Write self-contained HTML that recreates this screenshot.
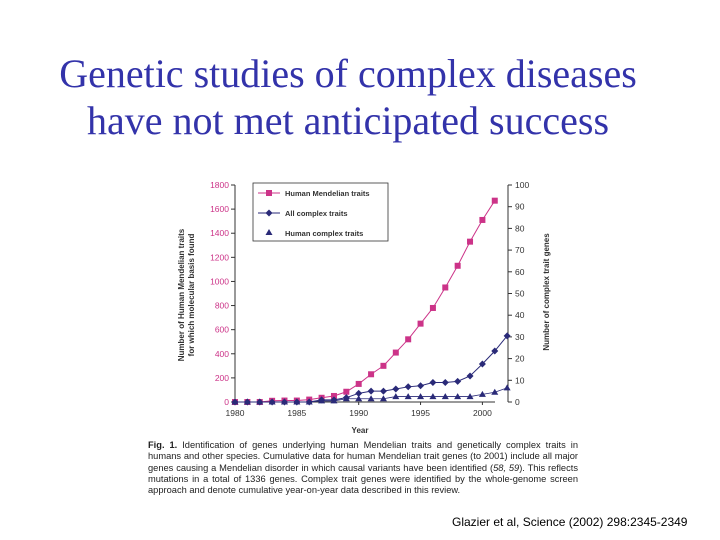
<!DOCTYPE html>
<html><head><meta charset="utf-8"><style>
body{margin:0;width:720px;height:540px;background:#fff;overflow:hidden;font-family:"Liberation Sans",sans-serif}
#title{position:absolute;left:0;top:50px;width:696px;text-align:center;font-family:"Liberation Serif",serif;font-size:40px;line-height:47px;color:#3333aa}
#caption{position:absolute;left:148px;top:440px;width:430px;font-size:9.3px;line-height:11.3px;color:#222;text-align:justify}
#cite{position:absolute;left:452px;top:515px;font-size:12px;color:#000}
</style></head><body>
<div id="title">Genetic studies of complex diseases<br>have not met anticipated success</div>
<svg id="chart" width="720" height="540" style="position:absolute;left:0;top:0"></svg>
<div id="caption"><b>Fig. 1.</b> Identification of genes underlying human Mendelian traits and genetically complex traits in humans and other species. Cumulative data for human Mendelian trait genes (to 2001) include all major genes causing a Mendelian disorder in which causal variants have been identified (<i>58, 59</i>). This reflects mutations in a total of 1336 genes. Complex trait genes were identified by the whole-genome screen approach and denote cumulative year-on-year data described in this review.</div>
<div id="cite">Glazier et al, Science (2002) 298:2345-2349</div>
<script>
const years=[1980,1981,1982,1983,1984,1985,1986,1987,1988,1989,1990,1991,1992,1993,1994,1995,1996,1997,1998,1999,2000,2001,2002];
const mendelian=[0,0,0,10,12,12,20,35,50,85,150,230,300,410,520,650,780,950,1130,1330,1510,1670];
const allComplex=[0,0,0,0,0,0,0,1,1,2,4,5,5,6,7,7.5,9,9,9.5,12,17.5,23.5,30.5];
const humanComplex=[0,0,0,0,0,0,0,0.5,0.5,1.5,1.5,1.5,1.5,2.5,2.5,2.5,2.5,2.5,2.5,2.5,3.5,4.5,6.5];
const leftTicks=[0,200,400,600,800,1000,1200,1400,1600,1800];
const rightTicks=[0,10,20,30,40,50,60,70,80,90,100];
const xTicks=[1980,1985,1990,1995,2000];
const NS="http://www.w3.org/2000/svg",svg=document.getElementById('chart');
const X0=235,PX=12.37,Y0=402,H=217,XR=495;
const x=v=>X0+(v-1980)*PX, yl=v=>Y0-v/1800*H, yr=v=>Y0-v/100*H;
function mk(t,a,p){const e=document.createElementNS(NS,t);for(const k in a)e.setAttribute(k,a[k]);(p||svg).appendChild(e);return e;}
const PINK="#cc3388",NAVY="#2a2a78";
mk('line',{x1:X0,y1:Y0,x2:XR,y2:Y0,stroke:'#333','stroke-width':1});
mk('line',{x1:X0,y1:Y0,x2:X0,y2:yl(1800),stroke:'#333','stroke-width':1});
mk('line',{x1:XR+13,y1:Y0,x2:XR+13,y2:yr(100),stroke:'#333','stroke-width':1});
leftTicks.forEach(v=>{mk('line',{x1:X0-4,y1:yl(v),x2:X0,y2:yl(v),stroke:'#333'});
const t=mk('text',{x:X0-6,y:yl(v)+3,'text-anchor':'end','font-size':8.5,fill:PINK});t.textContent=v;
});
rightTicks.forEach(v=>{mk('line',{x1:XR+13,y1:yr(v),x2:XR+17,y2:yr(v),stroke:'#333'});
const t=mk('text',{x:XR+20,y:yr(v)+3,'font-size':8.5,fill:'#333'});t.textContent=v;
});
xTicks.forEach(v=>{mk('line',{x1:x(v),y1:Y0,x2:x(v),y2:Y0+3,stroke:'#333'});
const t=mk('text',{x:x(v),y:Y0+14,'text-anchor':'middle','font-size':8.5,fill:'#333'});t.textContent=v;
});
let t=mk('text',{x:360,y:433,'text-anchor':'middle','font-size':8,'font-weight':'bold',fill:'#333'});t.textContent='Year';

t=mk('text',{transform:'translate(184,295) rotate(-90)','text-anchor':'middle','font-size':8,'font-weight':'bold',fill:'#333'});t.textContent='Number of Human Mendelian traits';

t=mk('text',{transform:'translate(194,295) rotate(-90)','text-anchor':'middle','font-size':8,'font-weight':'bold',fill:'#333'});t.textContent='for which molecular basis found';

t=mk('text',{transform:'translate(549,292) rotate(-90)','text-anchor':'middle','font-size':8,'font-weight':'bold',fill:'#333'});t.textContent='Number of complex trait genes';

const pm=mendelian.map((v,i)=>x(years[i])+','+yl(v)).join(' ');
mk('polyline',{points:pm,fill:'none',stroke:PINK,'stroke-width':1});
mendelian.forEach((v,i)=>{const r=mk('rect',{x:x(years[i])-3,y:yl(v)-3,width:6,height:6,fill:PINK});
});
const pa=allComplex.map((v,i)=>x(years[i])+','+yr(v)).join(' ');
mk('polyline',{points:pa,fill:'none',stroke:NAVY,'stroke-width':1});
allComplex.forEach((v,i)=>{const cx=x(years[i]),cy=yr(v);const p=mk('polygon',{points:`${cx},${cy-3.5} ${cx+3.5},${cy} ${cx},${cy+3.5} ${cx-3.5},${cy}`,fill:NAVY});
});
const ph=humanComplex.map((v,i)=>x(years[i])+','+yr(v)).join(' ');
mk('polyline',{points:ph,fill:'none',stroke:NAVY,'stroke-width':0.8});
humanComplex.forEach((v,i)=>{const cx=x(years[i]),cy=yr(v);const p=mk('polygon',{points:`${cx},${cy-3.5} ${cx+3.5},${cy+2.5} ${cx-3.5},${cy+2.5}`,fill:NAVY});
});
const lg=mk('g',{});
mk('rect',{x:253,y:183,width:135,height:58,fill:'#fff',stroke:'#333','stroke-width':0.8},lg);
mk('line',{x1:258,y1:193,x2:280,y2:193,stroke:PINK},lg);mk('rect',{x:266,y:190,width:6,height:6,fill:PINK},lg);
mk('line',{x1:258,y1:213,x2:280,y2:213,stroke:NAVY},lg);mk('polygon',{points:'269,209.5 272.5,213 269,216.5 265.5,213',fill:NAVY},lg);
mk('polygon',{points:'269,229 272.5,235 265.5,235',fill:NAVY},lg);
[['Human Mendelian traits',196],['All complex traits',216],['Human complex traits',236]].forEach(a=>{const tt=mk('text',{x:285,y:a[1],'font-size':7.5,'font-weight':'bold',fill:'#333'},lg);tt.textContent=a[0];});
</script>
</body></html>
